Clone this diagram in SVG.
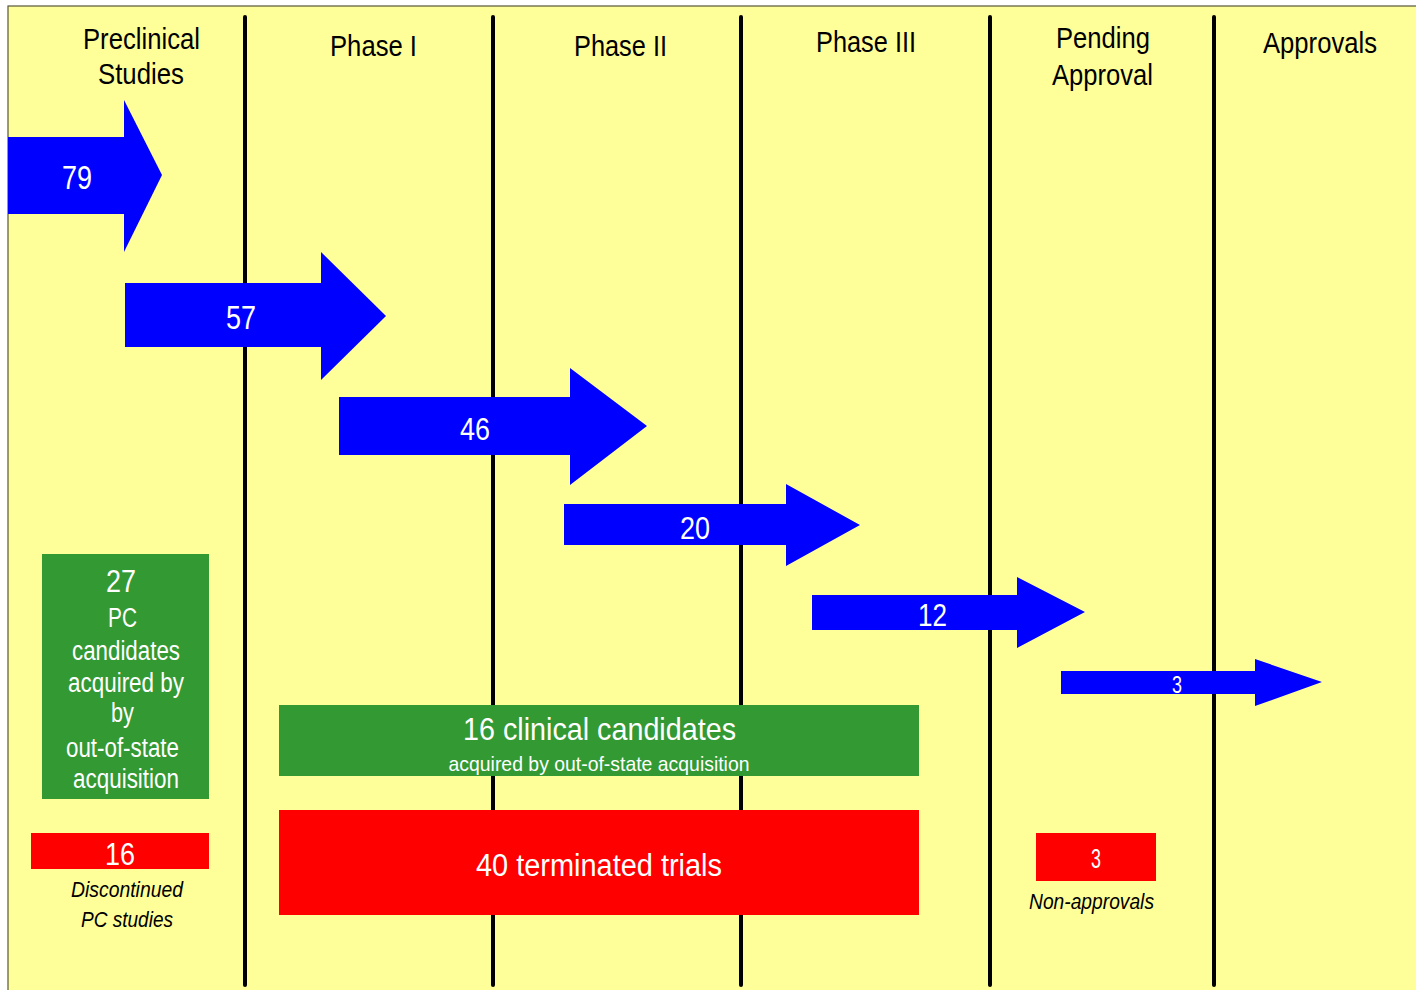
<svg xmlns="http://www.w3.org/2000/svg" width="1416" height="990" viewBox="0 0 1416 990">
<style>
.t{font-family:"Liberation Sans Narrow","Liberation Sans",Arial,sans-serif;text-anchor:middle}
.h{font-size:30px;fill:#000}
.w{fill:#fff}
.i{font-style:italic;font-size:22px;fill:#000}
.arrow{fill:#0000ff}
.div{stroke:#000;stroke-width:4;stroke-linecap:round}
</style>
<rect x="0" y="0" width="1416" height="990" fill="#fff"/>
<rect x="8" y="6" width="1420" height="1000" fill="#ffff99" stroke="#55553a" stroke-width="1.2"/>
<g id="dividers">
<line class="div" x1="245" y1="17" x2="245" y2="985"/>
<line class="div" x1="493" y1="17" x2="493" y2="985"/>
<line class="div" x1="741" y1="17" x2="741" y2="985"/>
<line class="div" x1="990" y1="17" x2="990" y2="985"/>
<line class="div" x1="1214" y1="17" x2="1214" y2="985"/>
</g>
<g id="headers">
<text class="t h" x="141.5" y="49" textLength="117" lengthAdjust="spacingAndGlyphs">Preclinical</text>
<text class="t h" x="141" y="84" textLength="86" lengthAdjust="spacingAndGlyphs">Studies</text>
<text class="t h" x="373.5" y="56" textLength="87" lengthAdjust="spacingAndGlyphs">Phase I</text>
<text class="t h" x="620.5" y="56" textLength="93" lengthAdjust="spacingAndGlyphs">Phase II</text>
<text class="t h" x="866" y="52" textLength="100" lengthAdjust="spacingAndGlyphs">Phase III</text>
<text class="t h" x="1103" y="48" textLength="94" lengthAdjust="spacingAndGlyphs">Pending</text>
<text class="t h" x="1102.5" y="85" textLength="101" lengthAdjust="spacingAndGlyphs">Approval</text>
<text class="t h" x="1320" y="53" textLength="114" lengthAdjust="spacingAndGlyphs">Approvals</text>
</g>
<g id="connectors">
<g id="arrow-79">
<polygon class="arrow" points="8,137 124,137 124,100 162,175 124,252 124,214 8,214"/>
<text class="t w" x="77" y="189" font-size="33" textLength="30" lengthAdjust="spacingAndGlyphs">79</text>
</g>
<g id="arrow-57">
<polygon class="arrow" points="125,283 321,283 321,252 386,316 321,380 321,347 125,347"/>
<text class="t w" x="241" y="329" font-size="33" textLength="30" lengthAdjust="spacingAndGlyphs">57</text>
</g>
<g id="arrow-46">
<polygon class="arrow" points="339,397 570,397 570,368 647,426 570,485 570,455 339,455"/>
<text class="t w" x="475" y="440" font-size="32" textLength="30" lengthAdjust="spacingAndGlyphs">46</text>
</g>
<g id="arrow-20">
<polygon class="arrow" points="564,504 786,504 786,484 860,525 786,566 786,545 564,545"/>
<text class="t w" x="695" y="539" font-size="32" textLength="30" lengthAdjust="spacingAndGlyphs">20</text>
</g>
<g id="arrow-12">
<polygon class="arrow" points="812,595 1017,595 1017,577 1085,612 1017,648 1017,630 812,630"/>
<text class="t w" x="932.5" y="626" font-size="32" textLength="29" lengthAdjust="spacingAndGlyphs">12</text>
</g>
<g id="arrow-3">
<polygon class="arrow" points="1061,671 1255,671 1255,659 1322,682 1255,706 1255,694 1061,694"/>
<text class="t w" x="1177" y="693" font-size="24" textLength="10" lengthAdjust="spacingAndGlyphs">3</text>
</g>
</g>
<g id="pc-acquired">
<rect x="42" y="554" width="167" height="245" fill="#339933"/>
<text class="t w" x="121" y="592" font-size="32" textLength="30" lengthAdjust="spacingAndGlyphs">27</text>
<text class="t w" x="122.5" y="627" font-size="27" textLength="29" lengthAdjust="spacingAndGlyphs">PC</text>
<text class="t w" x="126" y="660" font-size="27" textLength="108" lengthAdjust="spacingAndGlyphs">candidates</text>
<text class="t w" x="126" y="692" font-size="27" textLength="116" lengthAdjust="spacingAndGlyphs">acquired by</text>
<text class="t w" x="122.5" y="722" font-size="27" textLength="23" lengthAdjust="spacingAndGlyphs">by</text>
<text class="t w" x="122.5" y="757" font-size="27" textLength="113" lengthAdjust="spacingAndGlyphs">out-of-state</text>
<text class="t w" x="126" y="788" font-size="27" textLength="106" lengthAdjust="spacingAndGlyphs">acquisition</text>
</g>
<g id="pc-discontinued">
<rect x="31" y="833" width="178" height="36" fill="#ff0000"/>
<text class="t w" x="120" y="865" font-size="32" textLength="30" lengthAdjust="spacingAndGlyphs">16</text>
<text class="t i" x="127" y="897" textLength="112" lengthAdjust="spacingAndGlyphs">Discontinued</text>
<text class="t i" x="127" y="927" textLength="92" lengthAdjust="spacingAndGlyphs">PC studies</text>
</g>
<g id="clinical-acquired">
<rect x="279" y="705" width="640" height="71" fill="#339933"/>
<text class="t w" x="599.5" y="740" font-size="32" textLength="273" lengthAdjust="spacingAndGlyphs">16 clinical candidates</text>
<text class="t w" x="599" y="771" font-size="21" textLength="301" lengthAdjust="spacingAndGlyphs">acquired by out-of-state acquisition</text>
</g>
<g id="terminated">
<rect x="279" y="810" width="640" height="105" fill="#ff0000"/>
<text class="t w" x="599" y="876" font-size="31" textLength="246" lengthAdjust="spacingAndGlyphs">40 terminated trials</text>
</g>
<g id="non-approvals">
<rect x="1036" y="833" width="120" height="48" fill="#ff0000"/>
<text class="t w" x="1096" y="868" font-size="27" textLength="10" lengthAdjust="spacingAndGlyphs">3</text>
<text class="t i" x="1091.5" y="909" textLength="125" lengthAdjust="spacingAndGlyphs">Non-approvals</text>
</g>
</svg>
